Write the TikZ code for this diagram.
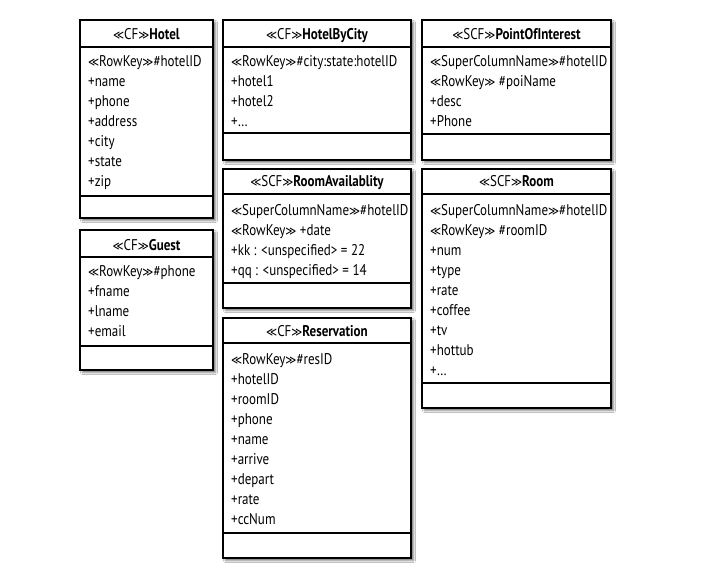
\documentclass[tikz,border=0pt]{standalone}
\usepackage{fontspec}
\setmainfont{PT Sans}[FakeStretch=0.84]
\newfontfamily\symf{DejaVu Sans}[FakeStretch=0.85,Scale=0.8]
\newcommand{\guL}{{\symf ≪}}
\newcommand{\guR}{{\symf ≫}}
\usetikzlibrary{shadows.blur}
\begin{document}
\begin{tikzpicture}[x=1pt,y=-1pt,
 classbox/.style={draw=black, line width=1.3pt, fill=white,
   blur shadow={shadow xshift=2.5pt, shadow yshift=-2.5pt, shadow blur radius=2pt, shadow opacity=55},
   anchor=north west, inner sep=0pt, outer sep=0pt},
 divider/.style={line width=1.3pt},
 titletext/.style={font=\fontsize{15.5}{18}\selectfont, anchor=base, inner sep=0pt},
 attr/.style={font=\fontsize{15.5}{18}\selectfont, anchor=base west, inner sep=0pt}]
\useasboundingbox[fill=white] (0,0) rectangle (709,572);

% Hotel
\node[classbox, minimum width=133pt, minimum height=198pt] (hotel) at (80,20) {};
\draw[divider] (hotel.west |- 0,47) -- (hotel.east |- 0,47);
\draw[divider] (hotel.west |- 0,196) -- (hotel.east |- 0,196);
\node[titletext] (hotelT) at (hotel.north |- 0,40) {\guL CF\guR\textbf{Hotel}};
\foreach \t [count=\i from 0] in {\guL RowKey\guR\#hotelID,+name,+phone,+address,+city,+state,+zip}
  \node[attr] at (88,{67+20*\i}) {\t};

% HotelByCity
\node[classbox, minimum width=188pt, minimum height=140pt] (hbc) at (223,20) {};
\draw[divider] (hbc.west |- 0,47) -- (hbc.east |- 0,47);
\draw[divider] (hbc.west |- 0,133) -- (hbc.east |- 0,133);
\node[titletext] (hbcT) at (hbc.north |- 0,40) {\guL CF\guR\textbf{HotelByCity}};
\foreach \t [count=\i from 0] in {\guL RowKey\guR\#city:state:hotelID,+hotel1,+hotel2,+…}
  \node[attr] at (231,{67+20*\i}) {\t};

% PointOfInterest
\node[classbox, minimum width=189pt, minimum height=140pt] (poi) at (422,20) {};
\draw[divider] (poi.west |- 0,47) -- (poi.east |- 0,47);
\draw[divider] (poi.west |- 0,134) -- (poi.east |- 0,134);
\node[titletext] (poiT) at (poi.north |- 0,40) {\guL SCF\guR\textbf{PointOfInterest}};
\foreach \t [count=\i from 0] in {\guL SuperColumnName\guR\#hotelID,\guL RowKey\guR{} \#poiName,+desc,+Phone}
  \node[attr] at (430,{67+20*\i}) {\t};

% RoomAvailablity
\node[classbox, minimum width=188pt, minimum height=139pt] (ra) at (223,169) {};
\draw[divider] (ra.west |- 0,194) -- (ra.east |- 0,194);
\draw[divider] (ra.west |- 0,283) -- (ra.east |- 0,283);
\node[titletext] (raT) at (ra.north |- 0,187) {\guL SCF\guR\textbf{RoomAvailablity}};
\foreach \t [count=\i from 0] in {\guL SuperColumnName\guR\#hotelID,\guL RowKey\guR{} +date,+kk : <unspecified> = 22,+qq : <unspecified> = 14}
  \node[attr] at (231,{215+20*\i}) {\t};

% Room
\node[classbox, minimum width=189pt, minimum height=239pt] (room) at (422,169) {};
\draw[divider] (room.west |- 0,194) -- (room.east |- 0,194);
\draw[divider] (room.west |- 0,383) -- (room.east |- 0,383);
\node[titletext] (roomT) at (room.north |- 0,187) {\guL SCF\guR\textbf{Room}};
\foreach \t [count=\i from 0] in {\guL SuperColumnName\guR\#hotelID,\guL RowKey\guR{} \#roomID,+num,+type,+rate,+coffee,+tv,+hottub,+…}
  \node[attr] at (430,{215+20*\i}) {\t};

% Guest
\node[classbox, minimum width=133pt, minimum height=140pt] (guest) at (80,230) {};
\draw[divider] (guest.west |- 0,257) -- (guest.east |- 0,257);
\draw[divider] (guest.west |- 0,346) -- (guest.east |- 0,346);
\node[titletext] (guestT) at (guest.north |- 0,250) {\guL CF\guR\textbf{Guest}};
\foreach \t [count=\i from 0] in {\guL RowKey\guR\#phone,+fname,+lname,+email}
  \node[attr] at (88,{276+20*\i}) {\t};

% Reservation
\node[classbox, minimum width=188pt, minimum height=240pt] (res) at (223,318) {};
\draw[divider] (res.west |- 0,343) -- (res.east |- 0,343);
\draw[divider] (res.west |- 0,533) -- (res.east |- 0,533);
\node[titletext] (resT) at (res.north |- 0,336) {\guL CF\guR\textbf{Reservation}};
\foreach \t [count=\i from 0] in {\guL RowKey\guR\#resID,+hotelID,+roomID,+phone,+name,+arrive,+depart,+rate,+ccNum}
  \node[attr] at (231,{364+20*\i}) {\t};
\end{tikzpicture}
\end{document}
